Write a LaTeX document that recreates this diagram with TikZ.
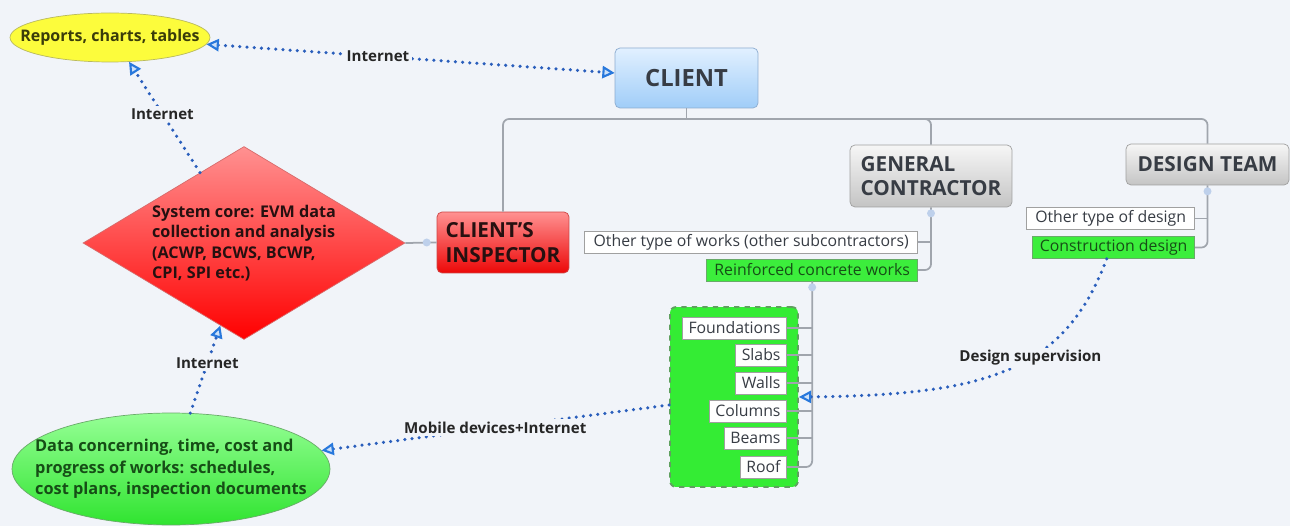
\documentclass[tikz,border=0pt]{standalone}
\usepackage{fontspec}
\setmainfont{Open Sans}
\usepackage{tikz}
\usetikzlibrary{arrows.meta, positioning, calc, shapes.geometric}
\usepackage{xcolor}
\definecolor{bgcol}{RGB}{241,244,249}
\definecolor{linkblue}{RGB}{42,94,188}
\definecolor{tipblue}{RGB}{40,120,220}
\definecolor{tipfill}{RGB}{205,225,248}
\definecolor{treegray}{RGB}{160,165,173}
\definecolor{markblue}{RGB}{190,208,235}
\definecolor{textdark}{RGB}{55,60,68}
\definecolor{ctop}{RGB}{225,240,255}
\definecolor{cbot}{RGB}{160,205,248}
\definecolor{cedge}{RGB}{140,172,208}
\definecolor{graytop}{RGB}{246,246,246}
\definecolor{graybot}{RGB}{196,196,196}
\definecolor{grayedge}{RGB}{160,160,160}
\definecolor{redtop}{RGB}{255,145,145}
\definecolor{redbot}{RGB}{236,8,8}
\definecolor{redtext}{RGB}{38,16,16}
\definecolor{redge}{RGB}{205,70,70}
\definecolor{yfill}{RGB}{252,252,60}
\definecolor{yedge}{RGB}{185,185,95}
\definecolor{ytext}{RGB}{58,60,10}
\definecolor{gtop}{RGB}{150,255,150}
\definecolor{gbot}{RGB}{48,228,48}
\definecolor{gedge}{RGB}{105,170,105}
\definecolor{gtext}{RGB}{22,78,22}
\definecolor{leafgreen}{RGB}{60,238,60}
\definecolor{contgreen}{RGB}{52,236,52}
\definecolor{cdash}{RGB}{95,160,95}

\begin{document}
\begin{tikzpicture}[x=0.02cm, y=-0.02cm,
  >={Triangle[length=7pt, width=7pt, line width=1.2pt, color=tipblue, fill=tipfill]},
  bigbox/.style={rounded corners=0.1cm, inner sep=0pt, align=left, text=textdark,
    font=\bfseries\fontsize{11.8}{13.5}\selectfont},
  graybox/.style={bigbox, draw=grayedge, top color=graytop, bottom color=graybot},
  leaf/.style={draw=grayedge, fill=white, inner xsep=3.5pt, inner ysep=0pt,
    minimum height=0.44cm, text=textdark, font=\fontsize{9}{10}\selectfont},
  greenleaf/.style={leaf, draw=gedge, fill=leafgreen, text=gtext},
  lbl/.style={fill=bgcol, inner sep=1.5pt, text=black!85,
    font=\bfseries\fontsize{8.6}{10}\selectfont},
  link/.style={draw=linkblue, line width=2pt, line cap=round, dash pattern=on 0pt off 4.1pt},
  tree/.style={draw=treegray, line width=1pt, rounded corners=0.12cm},
  dotmark/.style={fill=markblue}]

  \useasboundingbox (0,0) rectangle (1290,526);
  \fill[bgcol] (0,0) rectangle (1290,526);

  % main topics
  \node[ellipse, draw=yedge, fill=yfill, minimum width=4cm, minimum height=0.98cm,
    inner xsep=-1cm, inner ysep=0pt, text=ytext,
    font=\bfseries\fontsize{9.1}{11}\selectfont] (rep) at (110,37.5) {Reports, charts, tables};
  \node[bigbox, draw=cedge, top color=ctop, bottom color=cbot, minimum width=2.86cm,
    minimum height=1.2cm, font=\bfseries\fontsize{13.5}{15}\selectfont] (client) at (686.5,78) {CLIENT};
  \node[graybox, minimum width=3.24cm, minimum height=1.24cm] (gc) at (931,176) {GENERAL\\CONTRACTOR};
  \node[graybox, minimum width=3.26cm, minimum height=0.82cm] (dt) at (1207.5,164.5) {DESIGN TEAM};
  \node[bigbox, draw=redge, top color=redtop, bottom color=redbot, minimum width=2.64cm,
    minimum height=1.22cm, text=redtext, font=\bfseries\fontsize{11.8}{14}\selectfont] (ci) at (503,242.5) {CLIENT'S\\INSPECTOR};
  \node[diamond, draw=redge!80, top color=redtop, bottom color=red, minimum width=6.44cm,
    minimum height=3.86cm, aspect=1.67, inner sep=0pt, align=left, text=redtext,
    font=\bfseries\fontsize{9.2}{11.7}\selectfont] (core) at (244,243)
    {System core: EVM data\\collection and analysis\\(ACWP, BCWS, BCWP,\\CPI, SPI etc.)};
  \node[ellipse, draw=gedge, top color=gtop, bottom color=gbot, minimum width=6.36cm,
    minimum height=2.24cm, inner xsep=-1.5cm, inner ysep=0pt, align=left, text=gtext,
    font=\bfseries\fontsize{9.3}{12.2}\selectfont] (data) at (171,469)
    {Data concerning, time, cost and\\progress of works: schedules,\\cost plans, inspection documents};

  % subtopics
  \node[leaf, anchor=east, minimum width=6.66cm] (ow) at (918,242) {Other type of works (other subcontractors)};
  \node[greenleaf, anchor=east, minimum width=4.22cm] (rcb) at (918,270) {Reinforced concrete works};
  \node[leaf, anchor=east, minimum width=3.36cm] (od) at (1195,218.5) {Other type of design};
  \node[greenleaf, anchor=east, minimum width=3.24cm] (cd) at (1195,247.5) {Construction design};

  % works group
  \node[draw=cdash, dashed, line width=1pt, fill=contgreen, rounded corners=0.12cm,
    minimum width=2.56cm, minimum height=3.6cm] (grp) at (734,397) {};
  \foreach \n/\y/\t in {fnd/328/Foundations, slb/355/Slabs, wal/383/Walls,
                        col/411/Columns, bea/438/Beams, roo/467/Roof}
    \node[leaf, anchor=east] (\n) at (787,\y) {\t};

  % tree lines
  \coordinate (hub) at (686.5,119);
  \draw[tree] (client.south) -- (hub);
  \draw[tree] (ci.north) |- (hub) -| (dt.north);
  \draw[tree] (hub) -| (gc.north);
  \draw[tree] (gc.south) |- (rcb.east);
  \draw[tree] (ow.east) -- (ow.east -| gc.south);
  \draw[tree] (dt.south) |- (cd.east);
  \draw[tree] (od.east) -- (od.east -| dt.south);
  \draw[tree] (rcb.south) |- (roo.east);
  \foreach \n in {fnd, slb, wal, col, bea}
    \draw[tree] (\n.east) -- (\n.east -| rcb.south);
  \draw[tree] (core.east) -- (ci.west);
  \fill[dotmark] (gc.south) ++(0,6) circle (0.08cm);
  \fill[dotmark] (dt.south) ++(0,6) circle (0.08cm);
  \fill[dotmark] (rcb.south) ++(0,6) circle (0.08cm);
  \fill[dotmark] (ci.west) ++(-10,0) circle (0.08cm);

  % internet links
  \draw[link, <->] (rep) -- (client) node[lbl, pos=0.42] {Internet};
  \draw[link, ->] (core.122) -- (rep.-52) node[lbl, pos=0.53] {Internet};
  \draw[link, ->] (data.71) -- (core.254) node[lbl, pos=0.57] {Internet};
  \draw[link, ->] ([yshift=-0.16cm]grp.west) -- (data.7) node[lbl, pos=0.5] {Mobile devices+Internet};
  \draw[link, ->] ([xshift=-0.14cm]cd.south) .. controls (1065,370) and (990,395) .. (grp.east)
    node[lbl, pos=0.42] {Design supervision};
\end{tikzpicture}
\end{document}
